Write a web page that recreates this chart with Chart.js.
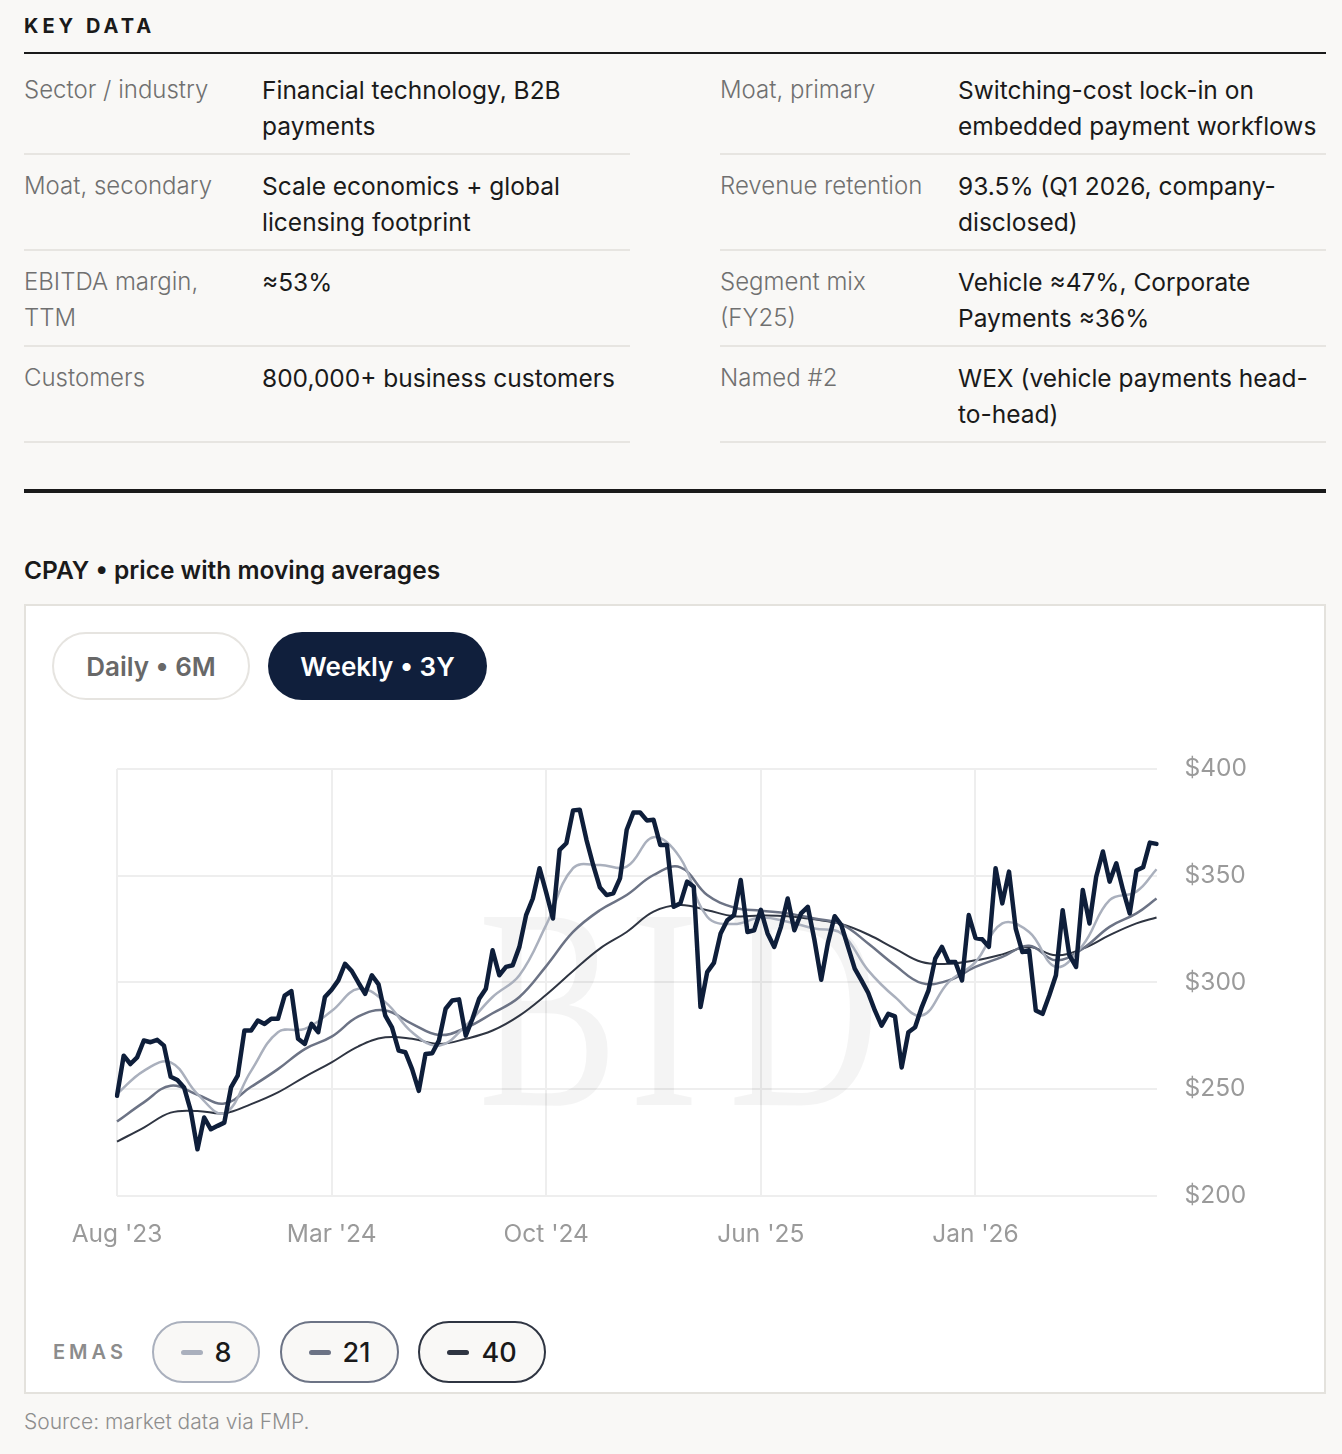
<!DOCTYPE html>
<html><head><meta charset="utf-8">
<script src="https://cdn.jsdelivr.net/npm/chart.js@4.4.1/dist/chart.umd.min.js"></script>
<style>
html,body{margin:0;padding:0;background:#f9f8f6;}
body{width:1342px;height:1454px;position:relative;overflow:hidden;font-family:Inter,Roboto,sans-serif;}
.abs{position:absolute;}
.kd{left:24px;top:12px;font:700 20px Inter,sans-serif;letter-spacing:4px;color:#1a1a1a;line-height:28px;}
.rule1{left:24px;top:52px;width:1302px;height:2px;background:#1a1a1a;}
.tbl{top:59px;width:606px;}
.row{display:flex;border-bottom:2px solid #e7e5e1;padding:13px 0 9px;height:96px;box-sizing:border-box;}
.lab{width:238px;flex:none;color:#707070;font-size:24px;font-weight:300;line-height:36px;white-space:nowrap;}
.val{color:#1a1a1a;font-size:24.5px;font-weight:400;line-height:36px;white-space:nowrap;}
.rule2{left:24px;top:489px;width:1302px;height:4px;background:#1a1a1a;}
.title{left:24px;top:554px;font:600 24.5px Inter,sans-serif;color:#1a1a1a;line-height:32px;}
.card{left:24px;top:604px;width:1302px;height:790px;box-sizing:border-box;border:2px solid #e4e2dd;background:#fff;}
.btn{top:632px;height:68px;box-sizing:border-box;border-radius:34px;display:flex;align-items:center;justify-content:center;font:600 26px Inter,sans-serif;}
.b1{left:52px;width:198px;border:2px solid #e6e4e0;color:#686868;background:#fff;}
.b2{left:268px;width:219px;background:#101f3c;color:#fff;}
.emas{left:53px;top:1338px;font:600 20px Inter,sans-serif;letter-spacing:4px;color:#8c8c8c;line-height:28px;}
.pill{top:1321px;height:62px;box-sizing:border-box;border-radius:31px;border:2px solid;background:#f9f8f6;display:flex;align-items:center;justify-content:center;font:500 27px Inter,sans-serif;color:#1a1a1a;}
.pill i{display:inline-block;width:22px;height:5px;border-radius:3px;margin-right:12px;}
.src{left:24px;top:1408px;font-size:21px;font-weight:300;color:#8e8e8e;line-height:28px;}
#wrap{left:40px;top:720px;width:1260px;height:553px;}
#c{display:block;width:1260px;height:553px;}
</style></head>
<body>
<div class="abs kd">KEY DATA</div>
<div class="abs rule1"></div>
<div class="abs tbl" style="left:24px">
  <div class="row"><div class="lab">Sector / industry</div><div class="val">Financial technology, B2B<br>payments</div></div>
  <div class="row"><div class="lab">Moat, secondary</div><div class="val">Scale economics + global<br>licensing footprint</div></div>
  <div class="row"><div class="lab">EBITDA margin,<br>TTM</div><div class="val">≈53%</div></div>
  <div class="row"><div class="lab">Customers</div><div class="val">800,000+ business customers</div></div>
</div>
<div class="abs tbl" style="left:720px">
  <div class="row"><div class="lab">Moat, primary</div><div class="val">Switching-cost lock-in on<br>embedded payment workflows</div></div>
  <div class="row"><div class="lab">Revenue retention</div><div class="val">93.5% (Q1 2026, company-<br>disclosed)</div></div>
  <div class="row"><div class="lab">Segment mix<br>(FY25)</div><div class="val">Vehicle ≈47%, Corporate<br>Payments ≈36%</div></div>
  <div class="row"><div class="lab">Named #2</div><div class="val">WEX (vehicle payments head-<br>to-head)</div></div>
</div>
<div class="abs rule2"></div>
<div class="abs title">CPAY • price with moving averages</div>
<div class="abs card"></div>
<div class="abs btn b1">Daily • 6M</div>
<div class="abs btn b2">Weekly • 3Y</div>
<div class="abs" id="wrap"><canvas id="c" width="1260" height="553"></canvas></div>
<div class="abs emas">EMAS</div>
<div class="abs pill" style="left:152px;width:108px;border-color:#aab0bd"><i style="background:#aab0bd"></i>8</div>
<div class="abs pill" style="left:280px;width:119px;border-color:#6c7385"><i style="background:#6c7385"></i>21</div>
<div class="abs pill" style="left:418px;width:128px;border-color:#2f3542"><i style="background:#2f3542"></i>40</div>
<div class="abs src">Source: market data via FMP.</div>
<script>
// Weekly closing price, Aug 2023 onward
const price = [
246.8,265.6,261.7,264.8,272.7,271.9,273.0,270.3,255.7,254.2,
250.7,239.7,221.7,236.6,231.1,232.7,234.2,250.7,256.2,277.4,
277.4,282.1,280.5,282.9,282.9,293.8,295.9,273.5,271.1,280.5,
276.6,293.1,296.5,300.9,308.7,305.3,299.8,294.6,303.3,299.0,
284.4,278.9,268.0,267.2,259.3,249.1,266.4,266.7,272.7,287.6,
291.5,292.0,275.0,282.9,292.3,297.0,315.0,303.3,307.2,308.0,
316.6,331.5,339.3,353.5,342.0,329.9,362.1,365.2,380.6,380.9,
366.8,355.0,344.5,340.9,341.7,348.7,371.5,379.6,379.6,375.9,
376.2,364.4,364.4,335.4,337.0,347.2,344.8,288.4,304.8,309.1,
322.9,329.1,331.5,348.0,323.6,324.4,334.0,322.9,316.6,326.0,
339.3,324.4,332.3,335.4,319.7,301.2,318.5,331.0,326.8,316.6,
306.4,300.9,295.1,286.8,279.7,285.2,284.0,260.1,276.6,278.9,
288.4,296.2,311.1,316.6,309.5,309.5,300.9,331.5,320.8,320.2,
316.6,353.5,337.0,351.9,325.2,314.2,315.0,286.8,285.2,293.8,
303.3,333.8,312.7,307.2,343.3,327.6,349.5,361.3,347.2,355.8,
343.3,332.3,352.4,353.9,365.5,364.9
];
// EMA readings at selected weeks (week index)
const emaIdx = [0,4,8,12,16,20,24,28,32,36,40,44,48,52,56,60,64,68,72,76,80,84,88,92,96,100,104,108,112,116,120,124,128,132,136,140,144,148,152,155];
const ema8 = [247.6,258.5,262.5,247.6,238.6,258.5,276.6,278.2,286.5,297.0,290.7,276.6,270.3,279.7,293.1,303.3,326.9,353.5,355.0,354.2,368.0,358.2,330.7,327.3,330.4,328.4,325.2,322.9,305.6,293.1,284.4,300.1,309.5,327.6,323.6,307.2,317.4,338.5,342.5,353.0];
const ema21 = [234.7,243.7,251.5,247.3,243.2,251.0,259.3,268.7,274.5,284.0,286.8,280.5,275.3,278.6,285.5,293.1,307.6,323.6,333.8,340.9,350.3,353.9,340.9,335.1,333.5,332.3,329.9,327.3,318.2,308.0,299.6,300.9,307.2,311.9,317.1,310.3,315.8,326.0,332.3,339.3];
const ema40 = [225.3,231.9,238.9,239.7,238.6,242.9,248.4,255.7,262.5,270.0,274.2,273.5,271.1,273.5,277.4,284.4,294.2,305.3,315.8,323.6,333.1,336.2,333.8,331.0,331.3,331.0,329.5,327.3,322.4,315.8,309.5,308.7,310.3,313.1,316.6,312.7,315.8,322.1,327.6,330.4];
const xTickIndex = [0,32,64,96,128];
const xTickLabels = ["Aug '23","Mar '24","Oct '24","Jun '25","Jan '26"];
const yTicks = [200,250,300,350,400];

const startWeek = Date.UTC(2023,7,7);
const weeks = price.map((_, i) => new Date(startWeek + i*7*86400000).toISOString().slice(0,10));
const pts = arr => emaIdx.map((k, j) => ({x: weeks[k], y: arr[j]}));

const watermark = {
  id: 'wm',
  beforeDatasetsDraw(chart) {
    const c = chart.ctx; c.save();
    c.fillStyle = 'rgba(0,0,0,0.045)';
    c.font = '287px "Liberation Serif", serif';
    c.textAlign = 'center'; c.textBaseline = 'alphabetic';
    [['B',508],['I',624],['D',764]].forEach(([t, x]) => {
      c.save(); c.translate(x, 385); c.scale(0.73, 1); c.fillText(t, 0, 0); c.restore();
    });
    c.restore();
  }
};

const axisFont = {family: 'Inter', size: 24.5};
new Chart(document.getElementById('c'), {
  type: 'line',
  data: {
    labels: weeks,
    datasets: [
      {label: 'CPAY', data: price, borderColor: '#0e1e3a', borderWidth: 4.5, pointRadius: 0, tension: 0, borderJoinStyle: 'round', borderCapStyle: 'round'},
      {label: 'EMA 8', data: pts(ema8), borderColor: '#aab0bd', borderWidth: 2.5, pointRadius: 0, tension: 0.4},
      {label: 'EMA 21', data: pts(ema21), borderColor: '#6c7385', borderWidth: 2.5, pointRadius: 0, tension: 0.4},
      {label: 'EMA 40', data: pts(ema40), borderColor: '#2f3542', borderWidth: 2, pointRadius: 0, tension: 0.4}
    ]
  },
  options: {
    responsive: false, animation: false, devicePixelRatio: 1,
    layout: {padding: {left: 77, right: 25, top: 49, bottom: 0}},
    plugins: {legend: {display: false}, tooltip: {enabled: false}},
    scales: {
      x: {
        type: 'category', offset: false,
        grid: {color: ctx => xTickIndex.includes(ctx.index) ? '#eeeeee' : 'rgba(0,0,0,0)', lineWidth: 2, drawTicks: false},
        border: {display: false},
        ticks: {autoSkip: false, maxRotation: 0, minRotation: 0, padding: 24, color: '#9a9a9a', font: axisFont,
          callback: (v, i) => { const k = xTickIndex.indexOf(i); return k >= 0 ? xTickLabels[k] : ''; }}
      },
      y: {
        position: 'right', min: yTicks[0], max: yTicks[yTicks.length-1],
        afterBuildTicks: s => { s.ticks = yTicks.map(v => ({value: v})); },
        grid: {color: '#eeeeee', lineWidth: 2, drawTicks: false},
        border: {display: false},
        ticks: {padding: 28, color: '#9a9a9a', font: axisFont, callback: v => '$' + v}
      }
    }
  },
  plugins: [watermark]
});
</script>
</body></html>
